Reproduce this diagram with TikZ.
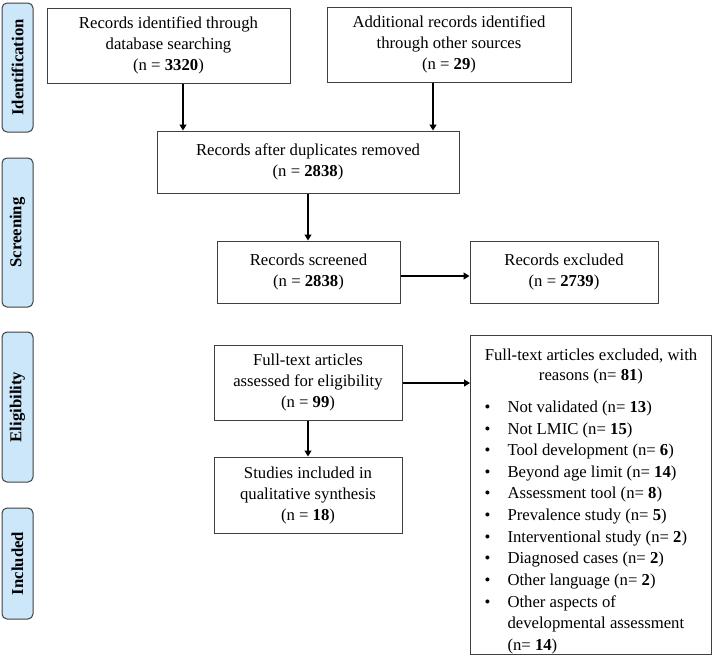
\documentclass[tikz,border=0pt]{standalone}
\usepackage{fontspec}
\setmainfont{Liberation Serif}
\usepackage{array}
\usetikzlibrary{arrows.meta}
\definecolor{phaseblue}{RGB}{204,230,250}
\definecolor{edge}{RGB}{64,64,64}

\begin{document}
\begin{tikzpicture}[x=1pt,y=-1pt,
    font=\fontsize{16.7}{21}\selectfont,
    box/.style={draw=edge,line width=1pt,align=center,inner sep=0pt},
    phase/.style={draw=edge,fill=phaseblue,rounded corners=5pt,line width=1pt,
      minimum height=31pt,inner sep=0pt,rotate=90,font=\fontsize{16.7}{20}\selectfont\bfseries},
    flow/.style={-{Triangle[length=6pt,width=7pt]},line width=1.2pt}]
    \useasboundingbox (0,0) rectangle (712,656);
    % phases
    \node[phase,minimum width=129pt] (ident) at (17.5,67.5) {Identification};
    \node[phase,minimum width=149pt] (screen) at (17.5,232.5) {Screening};
    \node[phase,minimum width=150pt] (elig) at (17.5,407) {Eligibility};
    \node[phase,minimum width=111pt] (incl) at (17.5,563.5) {Included};
    % boxes
    \node[box,minimum width=243pt,minimum height=75pt] (dbsearch) at (168.5,45.5) {Records identified through\\database searching\\(n = \textbf{3320})};
    \node[box,minimum width=244pt,minimum height=75pt] (othersrc) at (449,44.5) {Additional records identified\\through other sources\\(n = \textbf{29})};
    \node[box,minimum width=302pt,minimum height=62pt] (dedup) at (308,162) {Records after duplicates removed\\(n = \textbf{2838})};
    \node[box,minimum width=183pt,minimum height=62pt] (screened) at (308.5,272) {Records screened\\(n = \textbf{2838})};
    \node[box,minimum width=188pt,minimum height=62pt] (excluded) at (564,272) {Records excluded\\(n = \textbf{2739})};
    \node[box,minimum width=188pt,minimum height=75pt] (fulltext) at (308,382.5) {Full-text articles\\assessed for eligibility\\(n = \textbf{99})};
    \node[box,minimum width=188pt,minimum height=76pt] (included) at (308,495) {Studies included in\\qualitative synthesis\\(n = \textbf{18})};
    \node[box,anchor=north west,minimum width=241pt,minimum height=319pt] (reasons) at (470,335) {%
      \renewcommand{\arraystretch}{1.03}%
      \raisebox{-6pt}[\height][\depth]{%
      \begin{tabular}{@{}p{23pt}@{}p{190pt}@{}}
        \multicolumn{2}{@{}c@{}}{Full-text articles excluded, with}\\[-1.6pt]
        \multicolumn{2}{@{}c@{}}{reasons (n= \textbf{81})}\\[10.4pt]
        \textbullet & Not validated (n= \textbf{13})\\
        \textbullet & Not LMIC (n= \textbf{15})\\
        \textbullet & Tool development (n= \textbf{6})\\
        \textbullet & Beyond age limit (n= \textbf{14})\\
        \textbullet & Assessment tool (n= \textbf{8})\\
        \textbullet & Prevalence study (n= \textbf{5})\\
        \textbullet & Interventional study (n= \textbf{2})\\
        \textbullet & Diagnosed cases (n= \textbf{2})\\
        \textbullet & Other language (n= \textbf{2})\\
        \textbullet & Other aspects of\\
                    & developmental assessment\\
                    & (n= \textbf{14})
      \end{tabular}}};
    % arrows
    \draw[flow] ([xshift=14.5pt]dbsearch.south) -- ([xshift=14.5pt]dbsearch.south |- dedup.north);
    \draw[flow] ([xshift=-16pt]othersrc.south) -- ([xshift=-16pt]othersrc.south |- dedup.north);
    \draw[flow] (dedup.south) -- (dedup.south |- screened.north);
    \draw[flow] ([yshift=-4pt]screened.east) -- ([yshift=-4pt]screened.east -| excluded.west);
    \draw[flow] ([yshift=-0.5pt]fulltext.east) -- ([yshift=-0.5pt]fulltext.east -| reasons.west);
    \draw[flow] (fulltext.south) -- (fulltext.south |- included.north);
\end{tikzpicture}
\end{document}
